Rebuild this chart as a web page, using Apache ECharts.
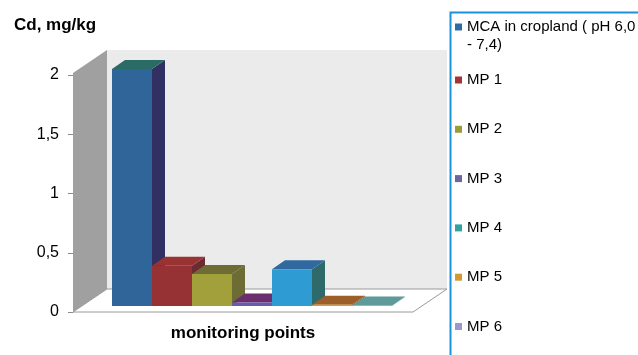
<!DOCTYPE html>
<html>
<head>
<meta charset="utf-8">
<script src="https://cdn.jsdelivr.net/npm/echarts@6/dist/echarts.min.js"></script>
<style>
  html, body { margin: 0; padding: 0; background: #ffffff; }
  #chart { width: 638px; height: 355px; }
</style>
</head>
<body>
<div id="chart"></div>
<script>
// Cd content at the monitoring points, mg/kg
const categories = ['monitoring points'];
const seriesNames = ['MCA in cropland ( pH 6,0 - 7,4)', 'MP 1', 'MP 2', 'MP 3', 'MP 4', 'MP 5', 'MP 6'];
const values = [2.0, 0.34, 0.27, 0.03, 0.31, 0.01, 0.005];
const yTicks = [0, 0.5, 1, 1.5, 2];

// shading of each 3D bar: front face, right side, top face
const frontColors = ['#2f6599', '#963234', '#a1a03a', '#6a5ba8', '#2f9bd3', '#d99a2f', '#8f8fc4'];
const sideColors  = ['#322f62', '#6c2b30', '#6c6c34', '#6b2d6e', '#2e6a6a', '#9b5e28', '#5f9a9a'];
const topColors   = ['#2a6b66', '#993333', '#6c6c34', '#6b2f70', '#2f69a0', '#9c5f2a', '#5f9a9a'];
const legendColors = ['#2e6ca4', '#a33535', '#9b9b3a', '#6b66a0', '#2ea3a0', '#d09a30', '#9a98cc'];

const FONT = '"Liberation Sans", Arial, sans-serif';
const DEPTH = [34, -23];      // full depth of floor and walls
const BAR_SHIFT = [9, -6];    // bars stand a little behind the floor's front edge
const BAR_DEPTH = [13, -9];   // depth of each box
const GROUP_FILL = 0.8235;    // share of the category band taken by the bars

function renderFrame(params, api) {
  const base = api.coord([0, 0]);
  const band = api.size([1, 0])[0];
  const L = base[0] - band / 2;
  const R = base[0] + band / 2;
  const y0 = base[1];
  const yTop = api.coord([0, yTicks[yTicks.length - 1]])[1] - 2;
  const dx = DEPTH[0], dy = DEPTH[1];
  return {
    type: 'group',
    children: [
      { type: 'rect', shape: { x: L + dx, y: yTop + dy, width: R - L, height: y0 - yTop },
        style: { fill: '#ebebeb' } },
      { type: 'polygon', shape: { points: [[L, y0], [L, yTop], [L + dx, yTop + dy], [L + dx, y0 + dy]] },
        style: { fill: '#a0a0a0' } },
      { type: 'polygon', shape: { points: [[L, y0], [R, y0], [R + dx, y0 + dy], [L + dx, y0 + dy]] },
        style: { fill: '#ffffff', stroke: '#9a9a9a', lineWidth: 1 } }
    ]
  };
}

function renderBar(i, api) {
  const base = api.coord([0, 0]);
  const top = api.coord([0, api.value(1)]);
  const band = api.size([1, 0])[0];
  const w = band * GROUP_FILL / seriesNames.length;
  const x0 = base[0] - w * seriesNames.length / 2 + i * w + BAR_SHIFT[0];
  const x1 = x0 + w;
  const yb = base[1] + BAR_SHIFT[1];
  const yt = Math.min(top[1] + BAR_SHIFT[1], yb - 0.6);
  const ddx = BAR_DEPTH[0], ddy = BAR_DEPTH[1];
  return {
    type: 'group',
    children: [
      { type: 'polygon', shape: { points: [[x1, yt], [x1 + ddx, yt + ddy], [x1 + ddx, yb + ddy], [x1, yb]] },
        style: { fill: sideColors[i] } },
      { type: 'polygon', shape: { points: [[x0, yt], [x0 + ddx, yt + ddy], [x1 + ddx, yt + ddy], [x1, yt]] },
        style: { fill: topColors[i] } },
      { type: 'rect', shape: { x: x0, y: yt, width: w, height: yb - yt },
        style: { fill: frontColors[i] } }
    ]
  };
}

const chart = echarts.init(document.getElementById('chart'), null, { renderer: 'canvas' });

const barSeries = seriesNames.map((name, i) => ({
  type: 'custom',
  name: name,
  coordinateSystem: 'cartesian2d',
  data: [[0, values[i]]],
  itemStyle: { color: legendColors[i] },
  clip: false,
  z: 3,
  renderItem: (params, api) => renderBar(i, api)
}));

chart.setOption({
  animation: false,
  backgroundColor: '#ffffff',
  title: {
    text: 'Cd, mg/kg',
    left: 14, top: 17, padding: 0,
    textStyle: { fontFamily: FONT, fontSize: 17, fontWeight: 'bold', color: '#000000' }
  },
  grid: { left: 73, right: 225, top: 75, bottom: 43 },
  xAxis: {
    type: 'category',
    data: categories,
    axisLine: { show: false },
    axisTick: { show: false },
    axisLabel: { margin: 13, fontFamily: FONT, fontSize: 17, fontWeight: 'bold', color: '#000000' },
    splitLine: { show: false }
  },
  yAxis: {
    type: 'value',
    min: yTicks[0], max: yTicks[yTicks.length - 1], interval: 0.5,
    axisLine: { show: false },
    axisTick: { show: true, length: 5, lineStyle: { color: '#8a8a8a' } },
    axisLabel: {
      margin: 14, fontFamily: FONT, fontSize: 16, color: '#000000',
      formatter: v => String(v).replace('.', ',')
    },
    splitLine: { show: false }
  },
  legend: [
    {
      // long entry wraps onto a second line; the empty leading line keeps the
      // marker beside the first line of text
      data: [seriesNames[0]],
      orient: 'vertical', left: 455, top: 0, padding: 0,
      icon: 'rect', itemWidth: 7, itemHeight: 7,
      formatter: name => '\n' + name.replace(' - ', '\n- '),
      textStyle: { fontFamily: FONT, fontSize: 15, color: '#000000', lineHeight: 18 },
      selectedMode: false
    },
    {
      data: seriesNames.slice(1),
      orient: 'vertical', left: 455, top: 71, padding: 0,
      icon: 'rect', itemWidth: 7, itemHeight: 7, itemGap: 31.3,
      textStyle: { fontFamily: FONT, fontSize: 15, color: '#000000', lineHeight: 18 },
      selectedMode: false
    }
  ],
  graphic: [
    { type: 'rect', left: 448, top: 10, z: 10, silent: true,
      shape: { width: 210, height: 360 },
      style: { fill: 'none', stroke: '#1b93dc', lineWidth: 2 } }
  ],
  series: [
    {
      type: 'custom',
      coordinateSystem: 'cartesian2d',
      data: [[0, 0]],
      silent: true,
      clip: false,
      z: 1,
      renderItem: renderFrame
    }
  ].concat(barSeries)
});
</script>
</body>
</html>
